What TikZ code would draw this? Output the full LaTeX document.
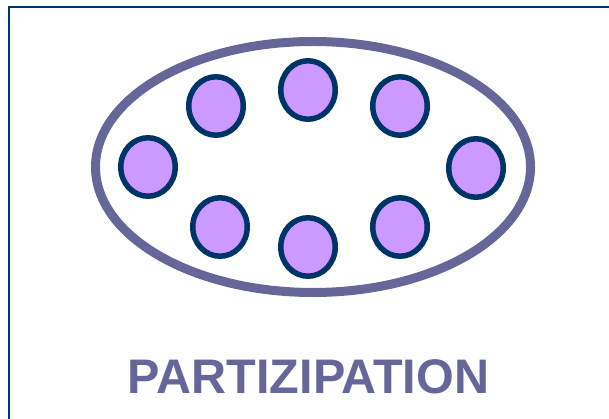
\documentclass[tikz,border=0pt]{standalone}
\usepackage{fontspec}
\setmainfont{Liberation Sans}
\definecolor{ringc}{HTML}{666699}
\definecolor{seatfill}{HTML}{CC99FF}
\definecolor{seatline}{HTML}{003366}
\tikzset{
  seat/.style={ellipse, draw=seatline, fill=seatfill, line width=5.5pt, minimum width=54.5pt, minimum height=58.5pt, inner sep=0pt},
  ring/.style={ellipse, draw=ringc, line width=9pt, minimum width=435pt, minimum height=251pt, inner sep=0pt},
  titletext/.style={text=ringc, font=\fontsize{48.5}{48.5}\selectfont\bfseries, anchor=base, inner sep=0pt}
}
\usetikzlibrary{shapes.geometric}
\begin{document}
\begin{tikzpicture}[x=1pt,y=-1pt]
\useasboundingbox (0,0) rectangle (609,419);
\clip (0,0) rectangle (609,419);
\draw[seatline, line width=2pt] (8.5,440) -- (8.5,7.5) -- (640,7.5);
\node[ring] (r) at (313,167) {};
\node[seat] (s1) at (148,167) {};
\node[seat] (s2) at (216,106) {};
\node[seat] (s3) at (308,90) {};
\node[seat] (s4) at (400,106) {};
\node[seat] (s5) at (476,168) {};
\node[seat] (s6) at (400,227) {};
\node[seat] (s7) at (308,247) {};
\node[seat] (s8) at (220,227) {};
\node[titletext] (t) at (308.5,393) {PARTIZIPATION};
\end{tikzpicture}
\end{document}
